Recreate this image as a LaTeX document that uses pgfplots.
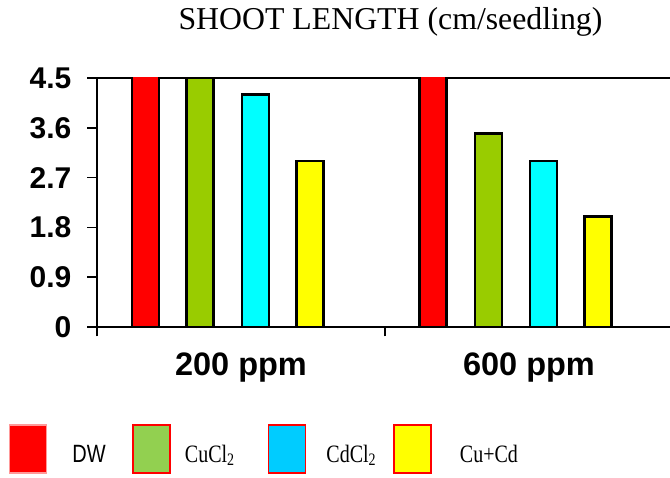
\documentclass[border=0pt]{standalone}
\usepackage{graphicx}
\usepackage{pgfplots}
\pgfplotsset{compat=1.18}
\usepackage{fontspec}
\setmainfont{Liberation Sans}
\newfontfamily\serifcam{Liberation Serif}
\definecolor{cRed}{HTML}{FF0000}
\definecolor{cGreen}{HTML}{99CC00}
\definecolor{cCyan}{HTML}{00FFFF}
\definecolor{cYellow}{HTML}{FFFF00}
\definecolor{lGreen}{HTML}{92D050}
\definecolor{lCyan}{HTML}{00CCFF}
\newcommand{\legtext}[3]{\makebox[#1][l]{\hspace{#2}\raisebox{0pt}[28pt][0pt]{\scalebox{0.8}[1]{\fontsize{25}{25}\selectfont #3}}}}
\begin{document}
\begin{tikzpicture}[x=1pt,y=1pt]
\begin{axis}[
  at={(0,0)}, anchor=south west,
  scale only axis, width=576pt, height=249pt,
  xmin=0, xmax=2, ymin=0, ymax=4.5,
  axis line style={line width=2pt},
  ytick={0,0.9,1.8,2.7,3.6,4.5},
  yticklabels={0,0.9,1.8,2.7,3.6,4.5},
  xtick={0,1,2}, xticklabels={},
  extra x ticks={0.5,1.5}, extra x tick labels={200 ppm,600 ppm},
  extra x tick style={major tick length=0pt, tick style={draw=none},
    xticklabel style={font=\fontsize{32.5}{32.5}\selectfont\bfseries, anchor=base, inner sep=0pt, yshift=-49pt}},
  tick align=outside, xtick pos=bottom, ytick pos=left,
  major tick length=9.5pt,
  tick style={line width=1.5pt, black},
  yticklabel style={font=\fontsize{30}{30}\selectfont\bfseries, inner sep=0pt, anchor=east, xshift=-16pt},
  title={\serifcam\fontsize{31.8}{31.8}\selectfont SHOOT LENGTH (cm/seedling)},
  title style={at={(axis description cs:0.5095,1.169)}, anchor=base, inner sep=0pt},
  legend style={at={(axis description cs:-0.1528,-0.3896)}, anchor=north west, draw=none, fill=none,
    inner sep=0pt, outer sep=0pt, row sep=0pt, column sep=0pt, nodes={inner sep=0pt, outer sep=0pt}},
  legend columns=4,
  legend image code/.code={\draw[#1, line width=1.5pt] (0pt,-24pt) rectangle (37pt,24pt);},
]
\addplot[ybar, bar width=0.094, bar shift=0pt, fill=cRed, draw=black, line width=2.5pt, forget plot] coordinates {(0.169,5) (1.167,5)};
\addplot[ybar, bar width=0.094, bar shift=0pt, fill=cGreen, draw=black, line width=2.5pt, forget plot] coordinates {(0.358,4.5) (1.360,3.5)};
\addplot[ybar, bar width=0.094, bar shift=0pt, fill=cCyan, draw=black, line width=2.5pt, forget plot] coordinates {(0.550,4.2) (1.551,3.0)};
\addplot[ybar, bar width=0.094, bar shift=0pt, fill=cYellow, draw=black, line width=2.5pt, forget plot] coordinates {(0.740,3.0) (1.740,2.0)};
\addlegendimage{fill=cRed, draw=cRed!40}
\addlegendentry{\legtext{85pt}{25pt}{DW}}
\addlegendimage{fill=lGreen, draw=cRed}
\addlegendentry{\legtext{97pt}{14pt}{\serifcam CuCl\textsubscript{2}}}
\addlegendimage{fill=lCyan, draw=cRed}
\addlegendentry{\legtext{87pt}{20pt}{\serifcam CdCl\textsubscript{2}}}
\addlegendimage{fill=cYellow, draw=cRed}
\addlegendentry{\legtext{85pt}{28pt}{\serifcam Cu+Cd}}
\end{axis}
\pgfresetboundingbox
\path[use as bounding box] (-97,-151) rectangle (573,327);
\end{tikzpicture}
\end{document}
